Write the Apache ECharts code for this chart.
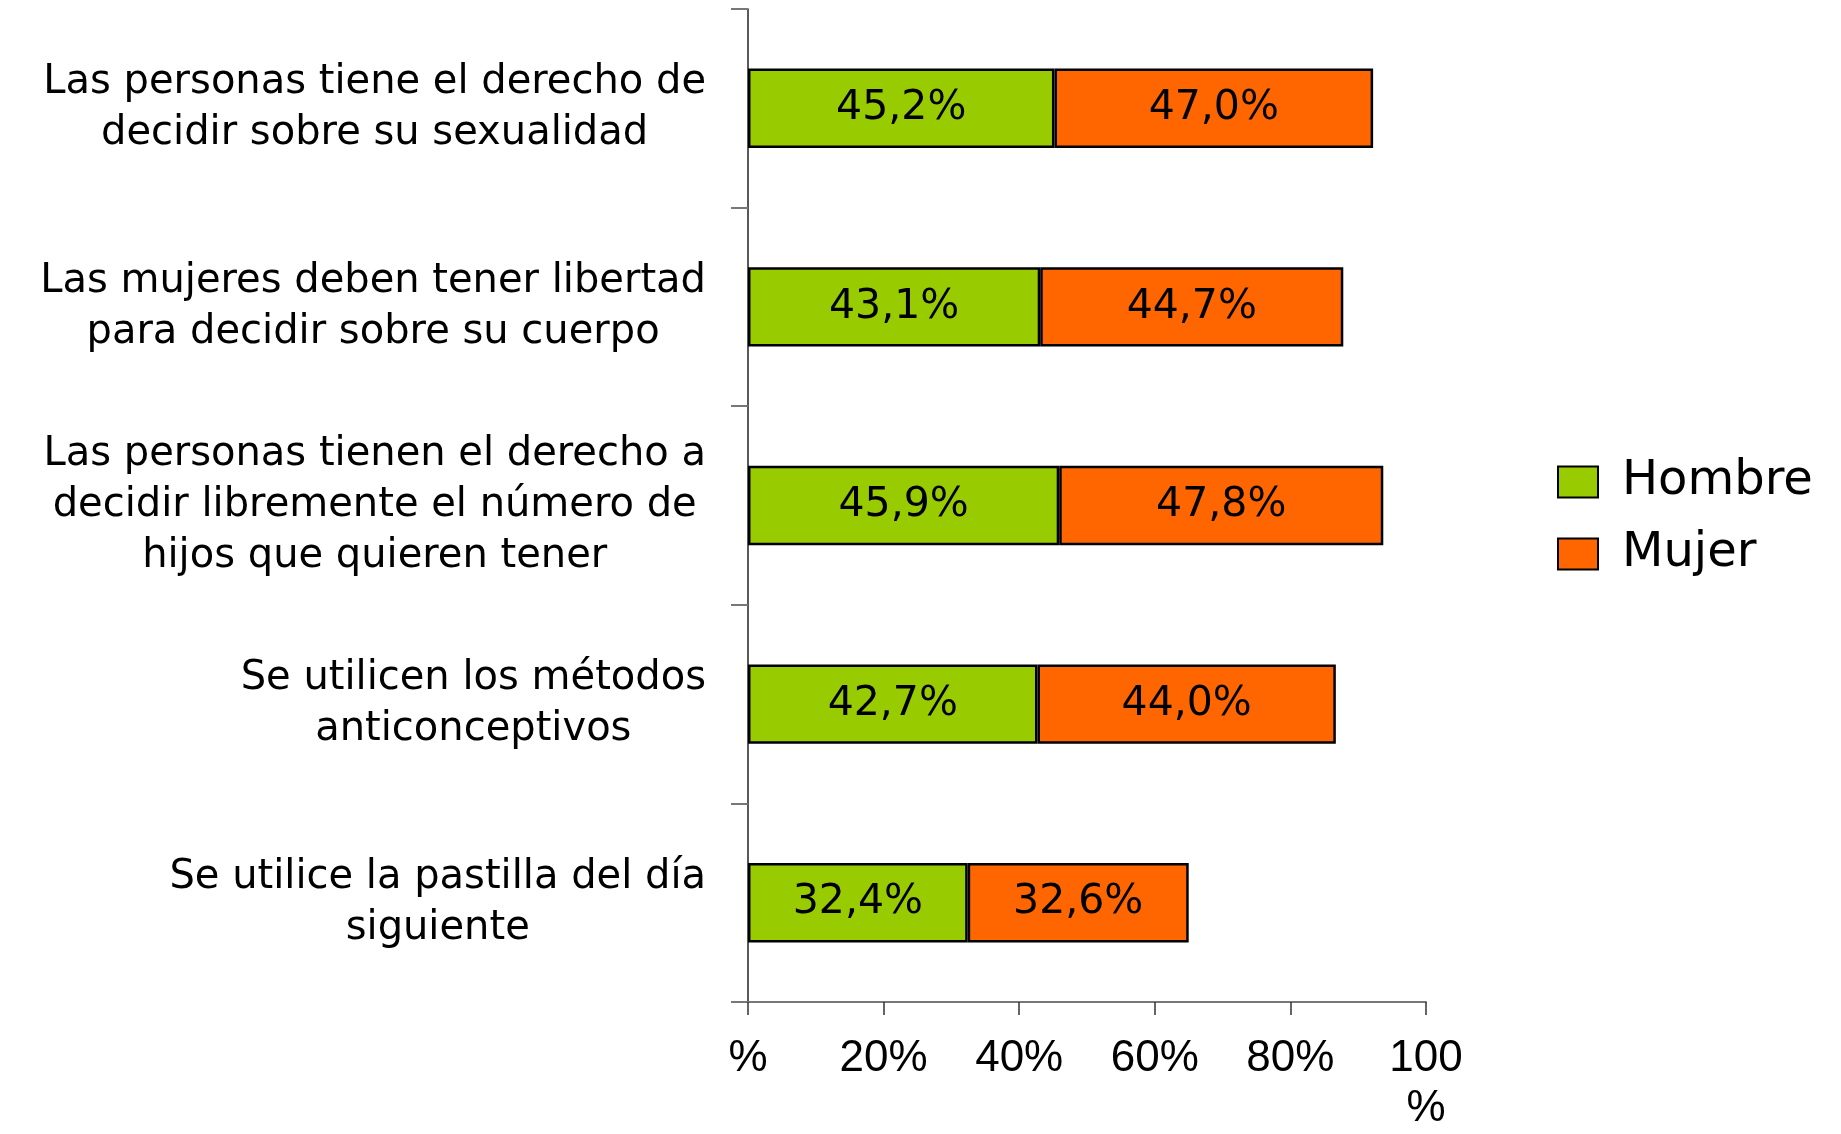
<!DOCTYPE html>
<html>
<head>
<meta charset="utf-8">
<script src="https://cdn.jsdelivr.net/npm/echarts@6/dist/echarts.min.js"></script>
<style>
html,body{margin:0;padding:0;background:#fff;}
#chart{width:1841px;height:1134px;}
</style>
</head>
<body>
<div id="chart"></div>
<script>
const categories = [
  "Las personas tiene el derecho de\ndecidir sobre su sexualidad",
  "Las mujeres deben tener libertad\npara decidir sobre su cuerpo",
  "Las personas tienen el derecho a\ndecidir libremente el número de\nhijos que quieren tener",
  "Se utilicen los métodos\nanticonceptivos",
  "Se utilice la pastilla del día\nsiguiente"
];
const seriesNames = ["Hombre", "Mujer"];
const hombre = [45.2, 43.1, 45.9, 42.7, 32.4];
const mujer = [47.0, 44.7, 47.8, 44.0, 32.6];
const xTicks = [0, 20, 40, 60, 80, 100];
const xTickLabels = ["%", "20%", "40%", "60%", "80%", "100\n%"];

const chart = echarts.init(document.getElementById('chart'));
const fmt = p => p.value.toFixed(1).replace('.', ',') + '%';
const barLabel = {
  show: true, position: 'inside', formatter: fmt,
  fontFamily: 'DejaVu Sans', fontSize: 41, color: '#000'
};
chart.setOption({
  animation: false,
  backgroundColor: '#fff',
  grid: { left: 748, right: 415, top: 9, bottom: 120, containLabel: false },
  legend: {
    data: seriesNames,
    orient: 'vertical',
    left: 1552, top: 452,
    itemWidth: 40, itemHeight: 31, itemGap: 22,
    icon: 'rect',
    textStyle: { fontFamily: 'DejaVu Sans', fontSize: 48, lineHeight: 50, color: '#000', padding: [0, 0, 0, 19] }
  },
  xAxis: {
    type: 'value', min: 0, max: 100, interval: 20,
    axisLine: { show: true, lineStyle: { color: '#777', width: 2 } },
    axisTick: { show: true, length: 13, lineStyle: { color: '#333', width: 1.5 } },
    splitLine: { show: false },
    axisLabel: {
      margin: 32,
      fontFamily: 'Liberation Sans', fontSize: 44, lineHeight: 50, color: '#000',
      formatter: v => xTickLabels[xTicks.indexOf(v)]
    }
  },
  yAxis: {
    type: 'category', data: categories, inverse: true,
    axisLine: { show: true, lineStyle: { color: '#222', width: 1.5 } },
    axisTick: { show: true, length: 17, lineStyle: { color: '#777', width: 2 } },
    axisLabel: {
      margin: 42, align: 'right',
      formatter: v => v.split('\n').map(l => '{c|' + l + '}').join('\n'),
      rich: { c: { align: 'center', fontFamily: 'DejaVu Sans', fontSize: 40, lineHeight: 51, color: '#000' } }
    }
  },
  series: [
    { name: seriesNames[0], type: 'bar', stack: 'total', data: hombre, barWidth: '40%',
      itemStyle: { color: '#99CC00', borderColor: '#000', borderWidth: 2.5 }, label: barLabel },
    { name: seriesNames[1], type: 'bar', stack: 'total', data: mujer, barWidth: '40%',
      itemStyle: { color: '#FF6600', borderColor: '#000', borderWidth: 2.5 }, label: barLabel }
  ]
});
</script>
</body>
</html>
